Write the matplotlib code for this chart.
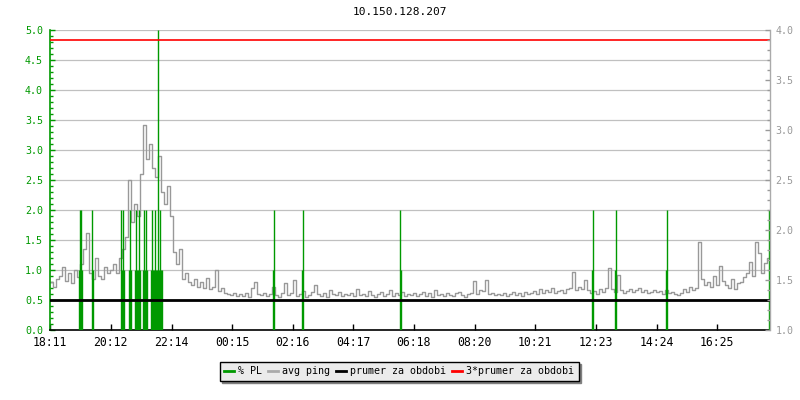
import numpy as np
import matplotlib
matplotlib.use("Agg")
import matplotlib.pyplot as plt
from matplotlib.ticker import MultipleLocator, FormatStrFormatter

# avg ping, one value every 6 minutes starting 18:11
ping = [
    0.80, 0.72, 0.85, 0.90, 1.05, 0.82, 0.95, 0.78, 1.00, 0.88,
    1.10, 1.35, 1.62, 0.95, 0.85, 1.20, 0.90, 0.85, 1.05, 0.95,
    1.00, 1.10, 0.95, 1.20, 1.35, 1.55, 2.50, 1.80, 2.10, 1.90,
    2.60, 3.42, 2.85, 3.10, 2.70, 2.55, 2.90, 2.30, 2.10, 2.40,
    1.90, 1.30, 1.10, 1.35, 0.85, 0.95, 0.80, 0.75, 0.85, 0.72,
    0.80, 0.70, 0.86, 0.68, 0.72, 1.00, 0.65, 0.70, 0.62, 0.60,
    0.58, 0.62, 0.56, 0.60, 0.57, 0.62, 0.55, 0.70, 0.80, 0.60,
    0.58, 0.62, 0.56, 0.60, 0.71, 0.58, 0.55, 0.62, 0.78, 0.58,
    0.62, 0.83, 0.57, 0.60, 0.65, 0.55, 0.58, 0.63, 0.75, 0.60,
    0.57, 0.62, 0.55, 0.66, 0.60, 0.58, 0.63, 0.56, 0.60, 0.58,
    0.62, 0.56, 0.68, 0.58, 0.60, 0.57, 0.65, 0.58, 0.55, 0.60,
    0.63, 0.57, 0.60, 0.66, 0.56, 0.62, 0.58, 0.64, 0.57, 0.60,
    0.58, 0.62, 0.56, 0.60, 0.63, 0.57, 0.61, 0.55, 0.66, 0.58,
    0.60, 0.56, 0.62, 0.58, 0.57, 0.61, 0.64, 0.58, 0.55, 0.60,
    0.62, 0.82, 0.60, 0.66, 0.65, 0.83, 0.60, 0.62, 0.58, 0.60,
    0.58, 0.62, 0.56, 0.60, 0.64, 0.58, 0.61, 0.57, 0.63, 0.60,
    0.62, 0.65, 0.60, 0.68, 0.62, 0.66, 0.63, 0.70, 0.62, 0.65,
    0.66, 0.62, 0.68, 0.70, 0.96, 0.66, 0.72, 0.68, 0.84, 0.66,
    0.62, 0.65, 0.60, 0.68, 0.64, 0.70, 1.03, 0.68, 0.64, 0.92,
    0.66, 0.62, 0.65, 0.68, 0.63, 0.66, 0.70, 0.64, 0.67, 0.62,
    0.64, 0.67, 0.63, 0.65, 0.60, 0.66, 0.62, 0.64, 0.60, 0.58,
    0.62, 0.68, 0.64, 0.72, 0.66, 0.70, 1.47, 0.85, 0.75, 0.80,
    0.72, 0.90, 0.75, 1.07, 0.82, 0.75, 0.70, 0.85, 0.68, 0.78,
    0.80, 0.88, 0.95, 1.13, 0.90, 1.47, 1.28, 0.95, 1.11, 1.20,
]
ping_step = 6  # minutes

# packet loss (minutes after 18:11, percent)
pl_min = [58, 60, 62, 64, 84, 86,
          142, 144, 146, 148, 158, 160, 162,
          170, 172, 174, 176, 178, 180,
          186, 188, 190, 192, 194,
          202, 204, 206, 208, 210, 212, 214, 216,
          218, 220, 222, 224,
          446, 448, 504, 506, 700, 702,
          1084, 1086, 1130, 1132, 1232, 1234, 1438]
pl_val = [1.0, 2.0, 2.0, 1.0, 2.0, 1.0,
          2.0, 1.0, 2.0, 1.0, 1.0, 2.0, 1.0,
          1.0, 2.0, 1.0, 1.0, 2.0, 1.0,
          1.0, 2.0, 1.0, 2.0, 1.0,
          1.0, 2.0, 1.0, 1.0, 2.0, 1.0, 1.0, 5.0,
          1.0, 2.0, 1.0, 1.0,
          1.0, 2.0, 1.0, 2.0, 2.0, 1.0,
          1.0, 2.0, 1.0, 2.0, 1.0, 2.0, 2.0]

mean_ping = 0.5
mean3_ping = 4.83

x_labels = ["18:11", "20:12", "22:14", "00:15", "02:16", "04:17",
            "06:18", "08:20", "10:21", "12:23", "14:24", "16:25"]
span_min = 1440

GREEN = "#009900"
GREY = "#999999"
MONO = "DejaVu Sans Mono"


def label_minutes(labels):
    # minutes after the first label, wrapping over midnight
    h0, m0 = map(int, labels[0].split(":"))
    out = []
    for lab in labels:
        h, m = map(int, lab.split(":"))
        out.append(((h * 60 + m) - (h0 * 60 + m0)) % 1440)
    return out


fig = plt.figure(figsize=(8, 4), dpi=100)
ax = fig.add_axes([50 / 800, 70 / 400, 720 / 800, 300 / 400])

t = np.arange(len(ping) + 1) * ping_step
ax.plot(t, ping + [ping[-1]], drawstyle="steps-post", color=GREY, lw=1.0, zorder=2)
ax.vlines(pl_min, 0, pl_val, color=GREEN, lw=1.0, zorder=3)
ax.axhline(mean_ping, color="black", lw=2.0, zorder=4)
ax.axhline(mean3_ping, color="red", lw=1.2, zorder=4)

ax.set_xlim(0, span_min)
ax.set_ylim(0, 5.0)
ax.yaxis.set_major_locator(MultipleLocator(0.5))
ax.yaxis.set_minor_locator(MultipleLocator(0.1))
ax.yaxis.set_major_formatter(FormatStrFormatter("%.1f"))
ax.grid(axis="y", color="#c0c0c0", lw=0.9, zorder=0)
ax.set_axisbelow(True)

ax.set_xticks(label_minutes(x_labels))
ax.set_xticklabels(x_labels, fontfamily=MONO, fontsize=8.3)
ax.tick_params(axis="x", direction="in", length=4, width=1, color="black", pad=4)
ax.tick_params(axis="y", which="major", direction="in", length=3.5, width=1,
               colors=GREEN, labelsize=7.2, pad=5)
ax.tick_params(axis="y", which="minor", direction="in", length=2.2, width=1, color=GREEN)
for lab in ax.get_yticklabels():
    lab.set_fontfamily(MONO)

ax.spines["top"].set_visible(False)
ax.spines["right"].set_visible(False)
ax.spines["left"].set_color(GREEN)
ax.spines["left"].set_linewidth(1.2)
ax.spines["bottom"].set_color("black")
ax.spines["bottom"].set_linewidth(1.2)

ax2 = ax.twinx()
ax2.set_ylim(1.0, 4.0)
ax2.yaxis.set_major_locator(MultipleLocator(0.5))
ax2.yaxis.set_minor_locator(MultipleLocator(0.1))
ax2.yaxis.set_major_formatter(FormatStrFormatter("%.1f"))
ax2.tick_params(axis="y", which="major", direction="in", length=3.5, width=1,
                colors=GREY, labelsize=7.2, pad=4)
ax2.tick_params(axis="y", which="minor", direction="in", length=2.2, width=1, color=GREY)
for lab in ax2.get_yticklabels():
    lab.set_fontfamily(MONO)
for s in ["top", "left", "bottom"]:
    ax2.spines[s].set_visible(False)
ax2.spines["right"].set_color("#aaaaaa")
ax2.spines["right"].set_linewidth(1.0)

fig.text(0.5, 0.97, "10.150.128.207", ha="center", va="center",
         fontfamily=MONO, fontsize=8)

handles = [plt.Line2D([], [], color=c, lw=2) for c in [GREEN, "#aaaaaa", "black", "red"]]
names = ["% PL", "avg ping", "prumer za obdobi", "3*prumer za obdobi"]
leg = fig.legend(handles, names, loc="center", bbox_to_anchor=(0.499, 0.0725),
                 ncol=4, handlelength=1.0, handletextpad=0.4, columnspacing=0.6,
                 borderpad=0.45, fancybox=False, framealpha=1,
                 shadow={"color": "#808080", "alpha": 1},
                 prop={"family": MONO, "size": 7.2})
leg.get_frame().set_facecolor("#ebebeb")
leg.get_frame().set_edgecolor("black")
leg.get_frame().set_linewidth(1.0)

fig.savefig("out.png", dpi=100)
